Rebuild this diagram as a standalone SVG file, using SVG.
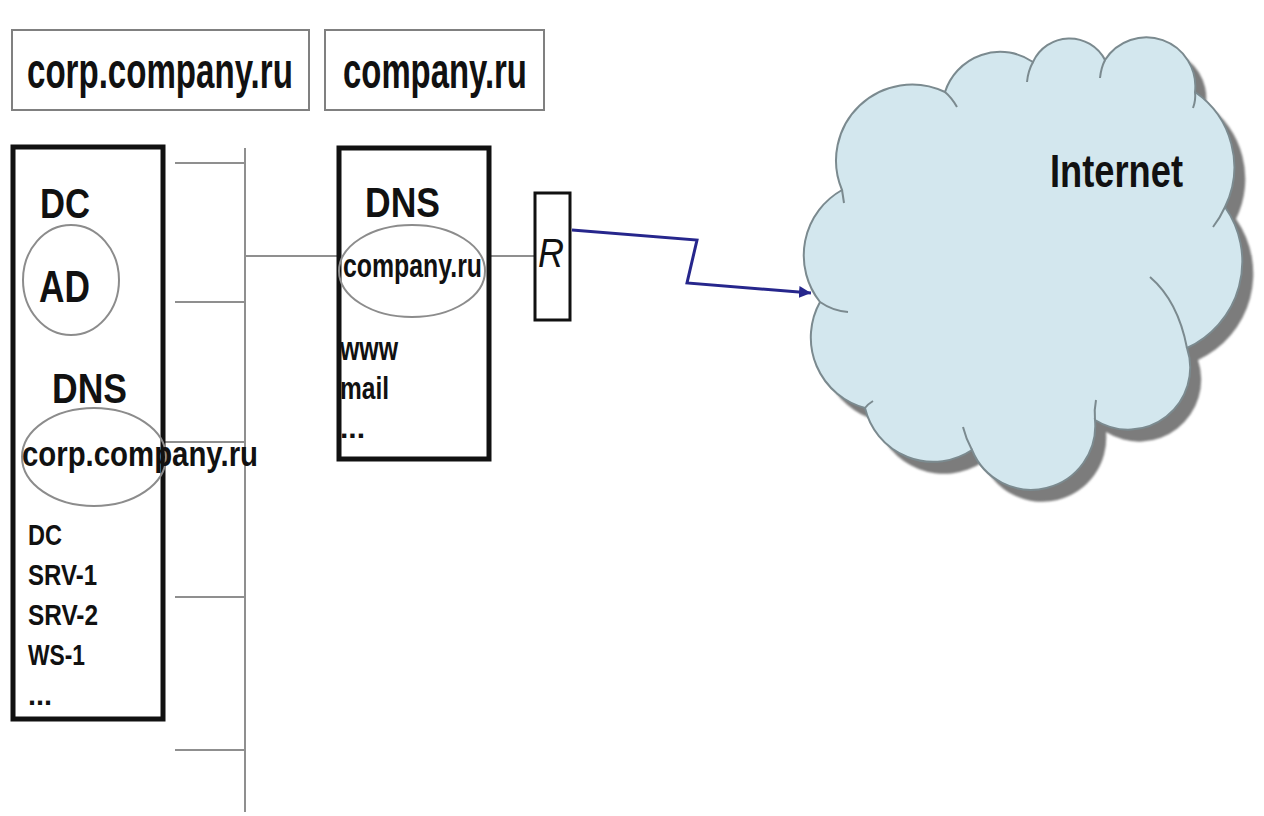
<svg xmlns="http://www.w3.org/2000/svg" width="1264" height="816" viewBox="0 0 1264 816">
<style>
.lbl{fill:#fff;stroke:#808080;stroke-width:2}
.box{fill:#fff;stroke:#111;stroke-width:5}
.ell{fill:none;stroke:#8c8c8c;stroke-width:2}
.wire{stroke:#8f8f8f;stroke-width:2;fill:none}
.b{font-family:"Liberation Sans",Arial,sans-serif;font-weight:bold;fill:#111}
.r{font-family:"Liberation Sans",Arial,sans-serif;font-style:italic;fill:#111}
.cloud{fill:#d3e7ee;stroke:#7b8a8f;stroke-width:2}
.tail{fill:none;stroke:#7b8a8f;stroke-width:2}
</style>
<defs>
<marker id="arr" viewBox="0 0 10 10" refX="10" refY="5" markerWidth="4" markerHeight="4" orient="auto" markerUnits="strokeWidth">
<path d="M0,0 L10,5 L0,10 Z" fill="#26268c"/>
</marker>
<filter id="blur" x="-5%" y="-5%" width="110%" height="110%"><feGaussianBlur stdDeviation="1.2"/></filter>
<path id="cloudpath" d="M820,302 A75 75 0 0 1 842,190 A76 76 0 0 1 945,92 A58 58 0 0 1 1033,62 A40 40 0 0 1 1105,60 A49 49 0 0 1 1195,92 A91 91 0 0 1 1225,207 A95 95 0 0 1 1187,348 A62 62 0 0 1 1095,420 A64 64 0 0 1 972,450 A70 70 0 0 1 865,408 A73 73 0 0 1 820,302 Z"/>
</defs>
<rect width="1264" height="816" fill="#fff"/>

<g id="label-corp">
<rect class="lbl" x="12" y="30" width="297" height="80"/>
<text class="b" transform="translate(27,88) scale(0.63,1)" x="0" y="0" font-size="50" textLength="422" lengthAdjust="spacingAndGlyphs">corp.company.ru</text>
</g>
<g id="label-company">
<rect class="lbl" x="325" y="30" width="219" height="80"/>
<text class="b" transform="translate(343,88) scale(0.63,1)" x="0" y="0" font-size="50" textLength="292" lengthAdjust="spacingAndGlyphs">company.ru</text>
</g>

<g id="connectors">
<line class="wire" x1="245" y1="148" x2="245" y2="812"/>
<line class="wire" x1="175" y1="163" x2="245" y2="163"/>
<line class="wire" x1="175" y1="302" x2="245" y2="302"/>
<line class="wire" x1="163" y1="442" x2="245" y2="442"/>
<line class="wire" x1="175" y1="597" x2="245" y2="597"/>
<line class="wire" x1="175" y1="750" x2="245" y2="750"/>
<line class="wire" x1="245" y1="256" x2="339" y2="256"/>
<line class="wire" x1="489" y1="256" x2="535" y2="256"/>
<polyline points="572,230 697,240 687,283 811,293" fill="none" stroke="#26268c" stroke-width="3" stroke-linejoin="miter" marker-end="url(#arr)"/>
</g>

<g id="dc-box">
<rect class="box" x="13" y="147" width="150" height="572"/>
<text class="b" x="40" y="218" font-size="43" textLength="50" lengthAdjust="spacingAndGlyphs">DC</text>
<ellipse class="ell" cx="71" cy="280" rx="48" ry="55"/>
<text class="b" x="39" y="302" font-size="44" textLength="51" lengthAdjust="spacingAndGlyphs">AD</text>
<text class="b" x="52" y="403" font-size="43" textLength="75" lengthAdjust="spacingAndGlyphs">DNS</text>
<ellipse class="ell" cx="94" cy="457" rx="72" ry="49"/>
<text class="b" x="22" y="466" font-size="35" textLength="236" lengthAdjust="spacingAndGlyphs">corp.company.ru</text>
<text class="b" x="28" y="545" font-size="29" textLength="34" lengthAdjust="spacingAndGlyphs">DC</text>
<text class="b" x="28" y="585" font-size="29" textLength="69" lengthAdjust="spacingAndGlyphs">SRV-1</text>
<text class="b" x="28" y="625" font-size="29" textLength="70" lengthAdjust="spacingAndGlyphs">SRV-2</text>
<text class="b" x="28" y="665" font-size="29" textLength="57" lengthAdjust="spacingAndGlyphs">WS-1</text>
<text class="b" x="28" y="705" font-size="29" textLength="24" lengthAdjust="spacingAndGlyphs">...</text>
</g>

<g id="dns-box">
<rect class="box" x="339" y="148" width="150" height="311"/>
<text class="b" x="365" y="217" font-size="42" textLength="75" lengthAdjust="spacingAndGlyphs">DNS</text>
<ellipse class="ell" cx="412" cy="271" rx="73" ry="46"/>
<text class="b" x="343" y="277" font-size="34" textLength="139" lengthAdjust="spacingAndGlyphs">company.ru</text>
<text class="b" x="340" y="360" font-size="34" textLength="58" lengthAdjust="spacingAndGlyphs">www</text>
<text class="b" x="340" y="399" font-size="32" textLength="49" lengthAdjust="spacingAndGlyphs">mail</text>
<text class="b" x="340" y="438" font-size="29" textLength="25" lengthAdjust="spacingAndGlyphs">...</text>
</g>

<g id="router">
<rect x="535" y="193" width="35" height="127" fill="#fff" stroke="#111" stroke-width="3"/>
<text class="r" x="538" y="267" font-size="40" textLength="26" lengthAdjust="spacingAndGlyphs">R</text>
</g>

<g id="internet">
<use href="#cloudpath" transform="translate(11,12)" fill="#7c7c7c" filter="url(#blur)"/>
<use href="#cloudpath" class="cloud"/>
<path class="tail" d="M842,190 Q843,196 844,203"/>
<path class="tail" d="M945,92 Q952,98 957,107"/>
<path class="tail" d="M1033,62 Q1028,71 1027,82"/>
<path class="tail" d="M1105,60 Q1101,68 1100,78"/>
<path class="tail" d="M1195,92 Q1196,100 1193,108"/>
<path class="tail" d="M1225,207 Q1220,218 1213,227"/>
<path class="tail" d="M1187,348 Q1178,301 1150,277"/>
<path class="tail" d="M1095,420 Q1094,410 1096,400"/>
<path class="tail" d="M972,450 Q966,439 963,427"/>
<path class="tail" d="M865,408 Q868,404 873,401"/>
<path class="tail" d="M820,302 Q833,311 848,312"/>
<text class="b" x="1050" y="187" font-size="47" textLength="133" lengthAdjust="spacingAndGlyphs">Internet</text>
</g>
</svg>
